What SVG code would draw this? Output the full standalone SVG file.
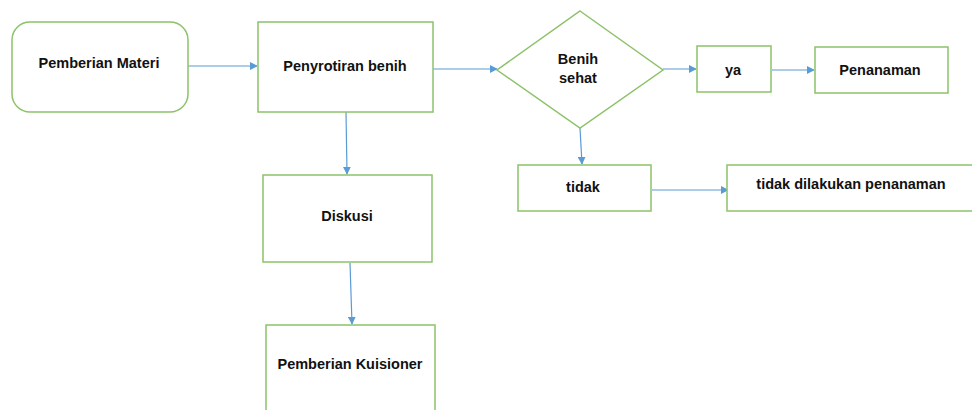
<svg xmlns="http://www.w3.org/2000/svg" width="972" height="410" viewBox="0 0 972 410">
<style>
.n{fill:#fff;stroke:#8dc26a;stroke-width:1.5}
.t{font-family:"Liberation Sans",Arial,sans-serif;font-weight:bold;font-size:14.5px;fill:#111;text-anchor:middle}
.c{stroke:#5b9bd5;stroke-width:1.2;fill:none;marker-end:url(#a)}
</style>
<defs>
<marker id="a" viewBox="0 0 10 10" refX="9" refY="5" markerWidth="8" markerHeight="8" markerUnits="userSpaceOnUse" orient="auto">
<path d="M0,0 L10,5 L0,10 z" fill="#5b9bd5"/>
</marker>
</defs>
<rect width="972" height="410" fill="#fff"/>
<g id="connectors">
<line class="c" x1="188" y1="66" x2="257" y2="66"/>
<line class="c" x1="433" y1="69" x2="497" y2="69"/>
<line class="c" x1="663" y1="69" x2="696" y2="69"/>
<line class="c" x1="772" y1="70" x2="814" y2="70"/>
<line class="c" x1="580" y1="128" x2="582" y2="164"/>
<line class="c" x1="652" y1="190" x2="728" y2="190"/>
<line class="c" x1="346" y1="112" x2="347" y2="174"/>
<line class="c" x1="350" y1="263" x2="352" y2="324"/>
</g>
<g id="pemberian-materi"><rect class="n" x="12" y="22" width="176" height="90" rx="18"/><text class="t" x="99" y="68">Pemberian Materi</text></g>
<g id="penyrotiran-benih"><rect class="n" x="258" y="22" width="175" height="90"/><text class="t" x="345" y="71">Penyrotiran benih</text></g>
<g id="benih-sehat"><polygon class="n" points="580,11 663,70 580,128 497,70"/><text class="t" x="578" y="64">Benih</text><text class="t" x="578" y="83">sehat</text></g>
<g id="ya"><rect class="n" x="697" y="46" width="74" height="46"/><text class="t" x="733" y="75">ya</text></g>
<g id="penanaman"><rect class="n" x="815" y="47" width="133" height="46"/><text class="t" x="880" y="75">Penanaman</text></g>
<g id="tidak"><rect class="n" x="518" y="165" width="133" height="46"/><text class="t" x="583" y="192">tidak</text></g>
<g id="tidak-dilakukan"><rect class="n" x="727" y="165" width="250" height="46"/><text class="t" x="851" y="189">tidak dilakukan penanaman</text></g>
<g id="diskusi"><rect class="n" x="263" y="175" width="169" height="87"/><text class="t" x="347" y="221">Diskusi</text></g>
<g id="pemberian-kuisioner"><rect class="n" x="266" y="325" width="169" height="95"/><text class="t" x="350" y="369">Pemberian Kuisioner</text></g>
</svg>
